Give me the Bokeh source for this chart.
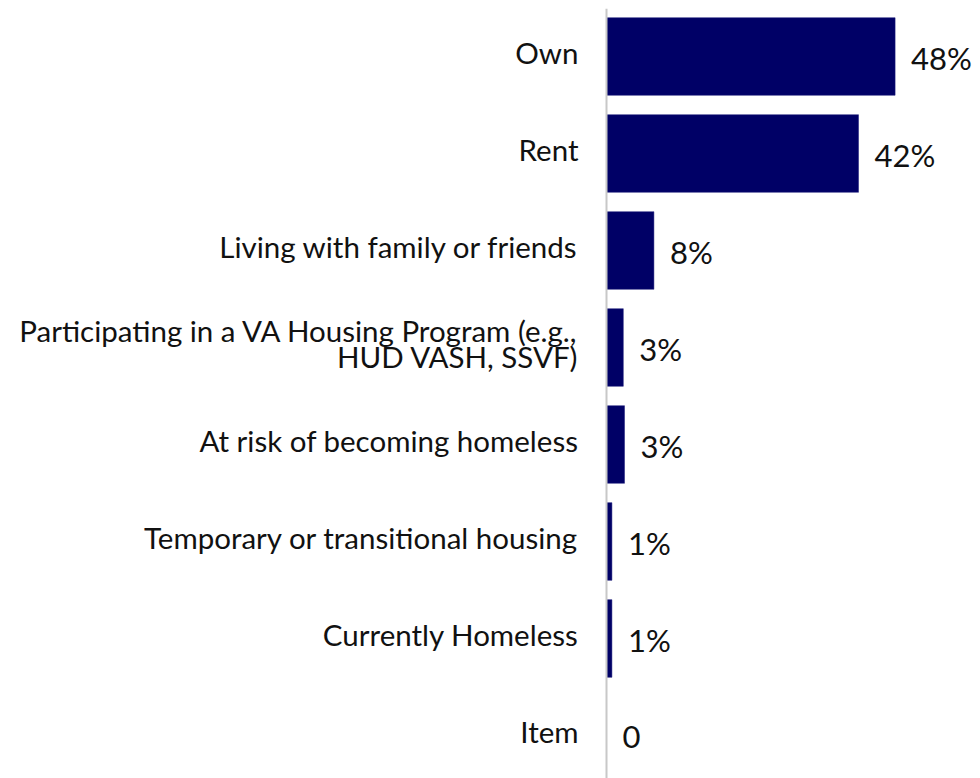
from bokeh.plotting import figure
from bokeh.models import Range1d, Span, ColumnDataSource
from bokeh.core.properties import value
from bokeh.embed import file_html
from bokeh.resources import INLINE

categories = ["Own", "Rent", "Living with family or friends",
              "Participating in a VA Housing Program (e.g.,\nHUD VASH, SSVF)",
              "At risk of becoming homeless", "Temporary or transitional housing",
              "Currently Homeless", "Item"]
values = [48.1, 42.0, 7.9, 2.8, 3.0, 0.9, 0.9, 0.0]
value_labels = ["48%", "42%", "8%", "3%", "3%", "1%", "1%", "0"]

W, H = 980, 778
TOP = 8
px_per = 6.0
zero_px = 606
band = 97.0
line_px = 26.5
x0 = -zero_px / px_per
x1 = (W - zero_px) / px_per
ytop = -(56 - TOP) / band
ybot = ytop + (H - TOP) / band

ypos = list(range(len(categories)))
src = ColumnDataSource(dict(y=ypos, v=values, lab=value_labels))

# split multi-line category labels into separate lines
lx, ly, ltxt, ldy = [], [], [], []
for i, c in enumerate(categories):
    parts = c.split("\n")
    n = len(parts)
    for j, t in enumerate(parts):
        lx.append(-28 / px_per)
        ly.append(i)
        ltxt.append(t)
        ldy.append(-4 + (j - (n - 1) / 2) * line_px)
lsrc = ColumnDataSource(dict(x=lx, y=ly, t=ltxt, dy=ldy))

p = figure(width=W, height=H, output_backend="svg", toolbar_location=None,
           x_range=Range1d(x0, x1), y_range=Range1d(ybot, ytop),
           min_border=0, min_border_left=0, min_border_right=0,
           min_border_top=TOP, min_border_bottom=0)
p.outline_line_color = None
p.axis.visible = False
p.grid.visible = False
p.background_fill_color = "white"

p.hbar(y="y", left=0, right="v", height=0.8, source=src,
       fill_color="#000066", line_color="#1a1a7a", line_width=0.5)

p.add_layout(Span(location=0, dimension="height", line_color="#c8c8c8", line_width=2))

p.text(x="x", y="y", text="t", source=lsrc, text_align="right", text_baseline="middle",
       y_offset="dy", text_font=value("Lato"), text_font_size="29.5px", text_color="#111111")
p.text(x="v", y="y", text="lab", source=src, text_align="left", text_baseline="middle",
       x_offset=16, y_offset=1, text_font=value("Lato"), text_font_size="31px",
       text_color="#111111")

open("out.html", "w").write(file_html(p, INLINE))
